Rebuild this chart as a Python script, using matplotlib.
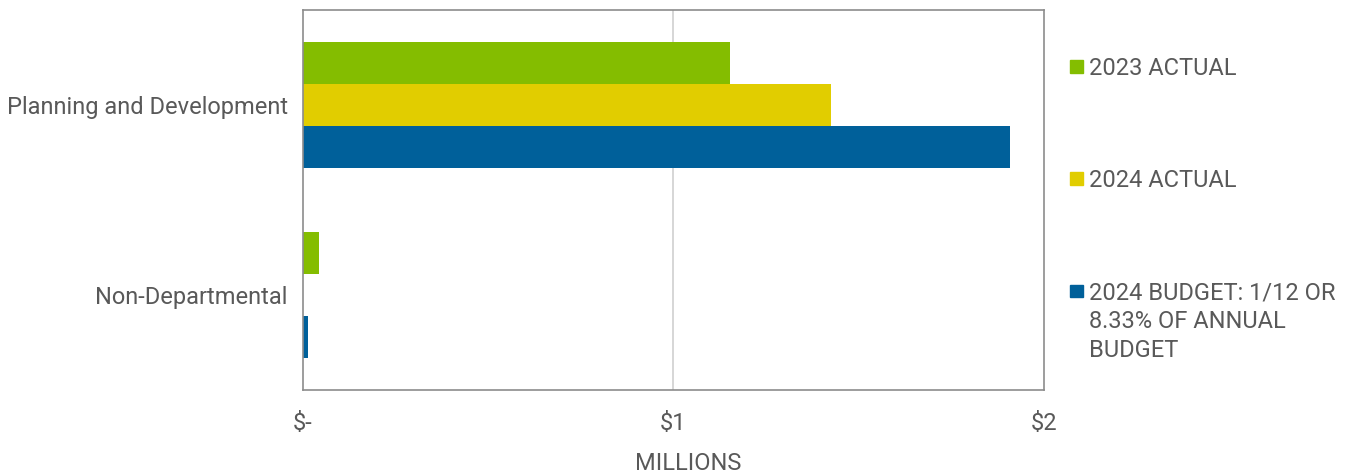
import matplotlib.pyplot as plt
from matplotlib.patches import Rectangle
import numpy as np

plt.rcParams['font.family'] = ['Roboto', 'DejaVu Sans']

categories = ["Non-Departmental", "Planning and Development"]
series_names = ["2023 ACTUAL", "2024 ACTUAL", "2024 BUDGET: 1/12 OR\n8.33% OF ANNUAL\nBUDGET"]
actual_2023 = [0.043, 1.152]
actual_2024 = [0.0, 1.425]
budget_2024 = [0.0135, 1.908]
tick_values = [0, 1, 2]
tick_labels = ["$-", "$1", "$2"]

colors = ["#84BD00", "#E1CD00", "#00609A"]
text_color = "#595959"
fs = 17

fig = plt.figure(figsize=(13.5, 4.76), dpi=100)
ax = fig.add_axes([0.2244, 0.1807, 0.5489, 0.7983])

y = np.arange(len(categories))
h = 0.22
for i, vals in enumerate([actual_2023, actual_2024, budget_2024]):
    ax.barh(y + h * (1 - i), vals, height=h, color=colors[i], zorder=2)

ax.set_xlim(0, 2)
ax.set_ylim(-0.5, 1.5)
ax.set_yticks(y)
ax.set_yticklabels(categories, fontsize=fs, color=text_color)
ax.set_xticks(tick_values)
ax.set_xticklabels(tick_labels, fontsize=fs, color=text_color)
ax.tick_params(axis='x', length=0, pad=16)
ax.tick_params(axis='y', length=0, pad=11)
ax.axvline(1, color="#d0d0d0", lw=1.2, zorder=1)
for s in ax.spines.values():
    s.set_color("#8c8c8c")
    s.set_linewidth(1.2)
ax.set_xlabel("MILLIONS", fontsize=fs, color=text_color)
ax.xaxis.set_label_coords(0.5196, -0.163)

# legend drawn by hand to match the spacing of the original
legend_y = [0.8424, 0.6078, 0.3712]
line_step = 0.0609
for name, c, ly in zip(series_names, colors, legend_y):
    fig.add_artist(Rectangle((0.7926, ly + 0.004), 0.0096, 0.0265,
                             transform=fig.transFigure, color=c))
    for k, line in enumerate(name.split("\n")):
        fig.text(0.8067, ly - k * line_step, line, fontsize=fs,
                 color=text_color, va="baseline", ha="left")

fig.savefig("out.png", dpi=100)
